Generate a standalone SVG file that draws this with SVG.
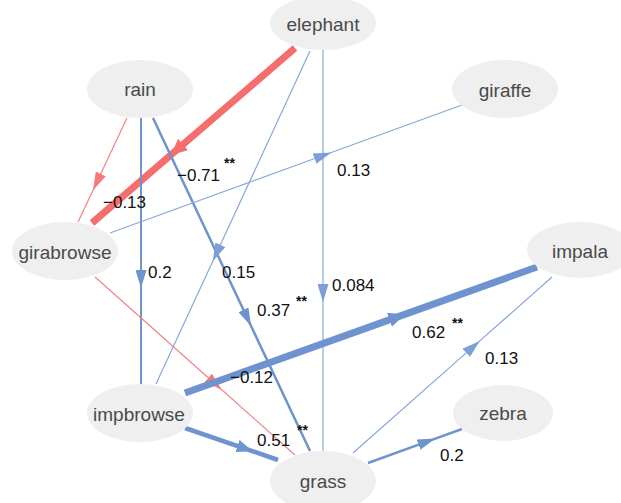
<svg xmlns="http://www.w3.org/2000/svg" width="621" height="503" viewBox="0 0 621 503">
<style>
.node ellipse{fill:#efefef;stroke:none}
.node text{font-family:"Liberation Sans",Arial,sans-serif;font-size:19px;fill:#4a4a4a;text-anchor:middle}
.e{fill:none;stroke-linecap:butt}
.b{stroke:#6f93cf}
.bl{stroke:#88a7da}
.r{stroke:#f46e6e}
.rl{stroke:#f58383}
.lbl{font-family:"Liberation Sans",Arial,sans-serif;font-size:17px;fill:#111}
.st{font-family:"Liberation Sans",Arial,sans-serif;font-size:14px;font-weight:bold;fill:#111}
</style>
<defs>
<marker id="aB" markerUnits="userSpaceOnUse" orient="auto" markerWidth="18" markerHeight="11" refX="9" refY="5.5" viewBox="0 0 18 11"><path d="M0,0 L18,5.5 L0,11 z" fill="#6f93cf"/></marker>
<marker id="aBL" markerUnits="userSpaceOnUse" orient="auto" markerWidth="18" markerHeight="11" refX="9" refY="5.5" viewBox="0 0 18 11"><path d="M0,0 L18,5.5 L0,11 z" fill="#7d9ed6"/></marker>
<marker id="aBM" markerUnits="userSpaceOnUse" orient="auto" markerWidth="16" markerHeight="13" refX="8" refY="6.5" viewBox="0 0 16 13"><path d="M0,0 L16,6.5 L0,13 z" fill="#6f93cf"/></marker>
<marker id="aBBig" markerUnits="userSpaceOnUse" orient="auto" markerWidth="16" markerHeight="15" refX="8" refY="7.5" viewBox="0 0 16 15"><path d="M0,0 L16,7.5 L0,15 z" fill="#6f93cf"/></marker>
<marker id="aRL" markerUnits="userSpaceOnUse" orient="auto" markerWidth="18" markerHeight="11" refX="9" refY="5.5" viewBox="0 0 18 11"><path d="M0,0 L18,5.5 L0,11 z" fill="#f47a7a"/></marker>
<marker id="aRBig" markerUnits="userSpaceOnUse" orient="auto" markerWidth="16" markerHeight="15" refX="8" refY="7.5" viewBox="0 0 16 15"><path d="M0,0 L16,7.5 L0,15 z" fill="#f46e6e"/></marker>
</defs>
<g id="connectors">
<path class="e r" stroke-width="7" marker-mid="url(#aRBig)" d="M295,48 L177,149.7 L92,223"/>
<path class="e rl" stroke-width="1.2" marker-mid="url(#aRL)" d="M127,118 L96.9,182 L78,222"/>
<path class="e b" stroke-width="2" marker-mid="url(#aB)" d="M141,118 L141,279 L141,384"/>
<path class="e b" stroke-width="2.5" marker-mid="url(#aB)" d="M153,118 L247.3,318 L310,451"/>
<path class="e bl" stroke-width="1.2" marker-mid="url(#aBL)" d="M310,51 L216.6,253 L156,384"/>
<path class="e bl" stroke-width="1.2" marker-mid="url(#aBL)" d="M323,50 L323,293 L323,451"/>
<path class="e bl" stroke-width="1.2" marker-mid="url(#aBL)" d="M110,233 L323,155.5 L462,105"/>
<path class="e rl" stroke-width="1.2" marker-mid="url(#aRL)" d="M95,277 L215,383.8 L295,455"/>
<path class="e b" stroke-width="7" marker-mid="url(#aBBig)" d="M185,393 L397,317.1 L537,267"/>
<path class="e b" stroke-width="4.5" marker-mid="url(#aBM)" d="M185,428 L245,448.6 L278,460"/>
<path class="e bl" stroke-width="1.2" marker-mid="url(#aBL)" d="M353,453 L473,346.9 L552,277"/>
<path class="e b" stroke-width="2.5" marker-mid="url(#aB)" d="M368,463 L427,441.6 L462,429"/>
</g>
<g id="labels">
<text class="lbl" x="177" y="181">−0.71</text><text class="st" x="224" y="168">**</text>
<text class="lbl" x="103" y="208">−0.13</text>
<text class="lbl" x="148" y="278">0.2</text>
<text class="lbl" x="222" y="278">0.15</text>
<text class="lbl" x="257" y="316">0.37</text><text class="st" x="296" y="306">**</text>
<text class="lbl" x="337" y="176">0.13</text>
<text class="lbl" x="332" y="291">0.084</text>
<text class="lbl" x="412" y="338">0.62</text><text class="st" x="452" y="328">**</text>
<text class="lbl" x="485" y="364">0.13</text>
<text class="lbl" x="230" y="383">−0.12</text>
<text class="lbl" x="257" y="446">0.51</text><text class="st" x="297" y="435">**</text>
<text class="lbl" x="440" y="461">0.2</text>
</g>
<g id="elephant" class="node"><ellipse cx="323" cy="23" rx="53" ry="27"/><text x="323" y="31">elephant</text></g>
<g id="rain" class="node"><ellipse cx="140" cy="89" rx="53" ry="29"/><text x="140" y="96">rain</text></g>
<g id="giraffe" class="node"><ellipse cx="505" cy="89" rx="53" ry="29"/><text x="505" y="97">giraffe</text></g>
<g id="girabrowse" class="node"><ellipse cx="65" cy="251" rx="53" ry="29"/><text x="65" y="259">girabrowse</text></g>
<g id="impala" class="node"><ellipse cx="580" cy="250" rx="53" ry="28"/><text x="580" y="258">impala</text></g>
<g id="impbrowse" class="node"><ellipse cx="140" cy="413" rx="53" ry="29"/><text x="139" y="421">impbrowse</text></g>
<g id="grass" class="node"><ellipse cx="323" cy="481" rx="53" ry="30"/><text x="323" y="488">grass</text></g>
<g id="zebra" class="node"><ellipse cx="503" cy="413" rx="50" ry="28"/><text x="503" y="420">zebra</text></g>
</svg>
